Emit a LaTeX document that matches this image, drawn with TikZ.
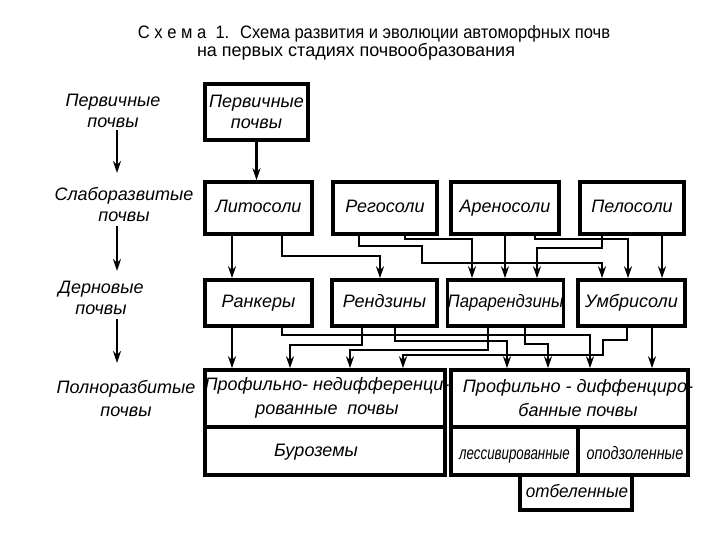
\documentclass[tikz,border=0pt]{standalone}
\usepackage{fontspec}
\usepackage{graphicx}
\setmainfont{Liberation Sans}
\usetikzlibrary{arrows.meta,calc}
\tikzset{
  box/.style={draw, line width=3.6pt, inner sep=0pt, minimum width=#1},
  conn/.style={line width=2.6pt, -{Stealth[length=12pt,width=8pt]}},
  lbl/.style={font=\fontsize{18}{21}\selectfont\itshape, align=center, inner sep=0pt},
  btxt/.style={font=\fontsize{18}{21}\selectfont\itshape, align=center, inner sep=0pt, text height=13pt, text depth=4pt},
  txt/.style={font=\fontsize{18}{24}\selectfont\itshape, align=center, inner sep=0pt},
  ttl/.style={font=\fontsize{18}{20}\selectfont, inner sep=0pt},
}
\begin{document}
\begin{tikzpicture}[x=1pt,y=-1pt]
\useasboundingbox[fill=white] (0,0) rectangle (720,540);

% title
\node[ttl] (t1) at (374,34) {\scalebox{0.92}[1]{С х е м а \ 1. \ Схема развития и эволюции автоморфных почв}};
\node[ttl] (t2) at (356,52) {на первых стадиях почвообразования};

% left column labels
\node[lbl] (l1) at (113,111) {Первичные\\почвы};
\node[lbl] (l2) at (124,204) {Слаборазвитые\\почвы};
\node[lbl] (l3) at (101,298) {Дерновые\\почвы};
\node[lbl] (l4) at (126,398) {Полноразбитые\\[2pt]почвы};
\coordinate (a1s) at (117,130); \coordinate (a1e) at (117,173);
\coordinate (a2s) at (117,226); \coordinate (a2e) at (117,271);
\coordinate (a3s) at (117,319); \coordinate (a3e) at (117,363);
\draw[conn] (a1s) -- (a1e);
\draw[conn] (a2s) -- (a2e);
\draw[conn] (a3s) -- (a3e);

% row 1
\node[box=103pt, minimum height=56pt, lbl] (perv) at (256.5,112) {Первичные\\почвы};

% row 2
\node[box=107pt, minimum height=52pt, btxt] (lit) at (258.5,208) {Литосоли};
\node[box=104pt, minimum height=52pt, btxt] (reg) at (385,208) {Регосоли};
\node[box=108pt, minimum height=52pt, btxt] (aren) at (505,208) {Ареносоли};
\node[box=104pt, minimum height=52pt, btxt] (pel) at (632,208) {Пелосоли};

% row 3
\node[box=107pt, minimum height=46pt, btxt] (rank) at (258.5,303) {Ранкеры};
\node[box=105pt, minimum height=46pt, btxt] (rend) at (384.5,303) {Рендзины};
\node[box=109pt, minimum height=46pt, btxt] (parar) at (505.5,303) {\scalebox{0.93}[1]{Парарендзины}};
\node[box=107pt, minimum height=46pt, btxt] (umb) at (631.5,303) {Умбрисоли};

% row 4
\node[box=240pt, minimum height=57pt] (nediff) at (325,398.5) {};
\node[box=240pt, minimum height=48pt] (bur) at (325,451) {};
\node[box=237pt, minimum height=57pt] (diff) at (569.5,398.5) {};
\node[box=127pt, minimum height=48pt] (less) at (514.5,451) {};
\node[box=110pt, minimum height=48pt] (opod) at (633,451) {};
\node[box=112pt, minimum height=35pt] (otb) at (576,492.5) {};

\node[txt] (nediffT) at (327,398) {Профильно- недифференци-\\рованные \ почвы};
\node[btxt] (burT) at (316,452) {Буроземы};
\node[txt] (diffT) at (578,398) {Профильно - диффенциро-\\банные почвы};
\node[btxt] (lessT) at (514.5,455) {\scalebox{0.74}[1]{лессивированные}};
\node[btxt] (opodT) at (635,455) {\scalebox{0.8}[1]{оподзоленные}};
\node[btxt] (otbT) at (577,493) {\scalebox{0.95}[1]{отбеленные}};

% row1 -> row2
\draw[conn] (perv.south) -- (perv.south |- lit.north);

% row2 -> row3
\draw[conn] ([xshift=-26.5pt]lit.south) -- ([xshift=-26.5pt]rank.north);
\draw[conn] ([xshift=23.5pt]lit.south) -- ++(0,20) -| ([xshift=-4.5pt]rend.north);
\draw[conn] ([xshift=-26pt]reg.south) -- ++(0,10) -- ++(63,0) -- ++(0,17) -| ([xshift=-29.5pt]umb.north);
\draw[conn] ([xshift=20pt]reg.south) -- ++(0,3) -| ([xshift=-33.5pt]parar.north);
\draw[conn] (aren.south) -- (aren.south |- parar.north);
\draw[conn] ([xshift=30pt]aren.south) -- ++(0,3) -| ([xshift=-3.5pt]umb.north);
\draw[conn] ([xshift=-30pt]pel.south) -- ++(0,12) -| ([xshift=31.5pt]parar.north);
\draw[conn] ([xshift=30pt]pel.south) -- ([xshift=30.5pt]umb.north);

% row3 -> row4
\draw[conn] ([xshift=-26.5pt]rank.south) -- ([xshift=-93pt]nediff.north);
\draw[conn] ([xshift=23.5pt]rank.south) -- ++(0,7) -| ([xshift=20.5pt]diff.north);
\draw[conn] ([xshift=-22.5pt]rend.south) -- ++(0,17) -| ([xshift=-35pt]nediff.north);
\draw[conn] ([xshift=10.5pt]rend.south) -- ++(0,13) -| ([xshift=-62.5pt]diff.north);
\draw[conn] ([xshift=-17.5pt]parar.south) -- ++(0,22) -| ([xshift=25pt]nediff.north);
\draw[conn] ([xshift=19.5pt]parar.south) -- ++(0,16) -| ([xshift=-21.5pt]diff.north);
\draw[conn] ([xshift=-4.5pt]umb.south) -- ++(0,12) -- ++(-24,0) -- ++(0,15) -| ([xshift=78pt]nediff.north);
\draw[conn] ([xshift=20.5pt]umb.south) -- ([xshift=82.5pt]diff.north);
\end{tikzpicture}
\end{document}
